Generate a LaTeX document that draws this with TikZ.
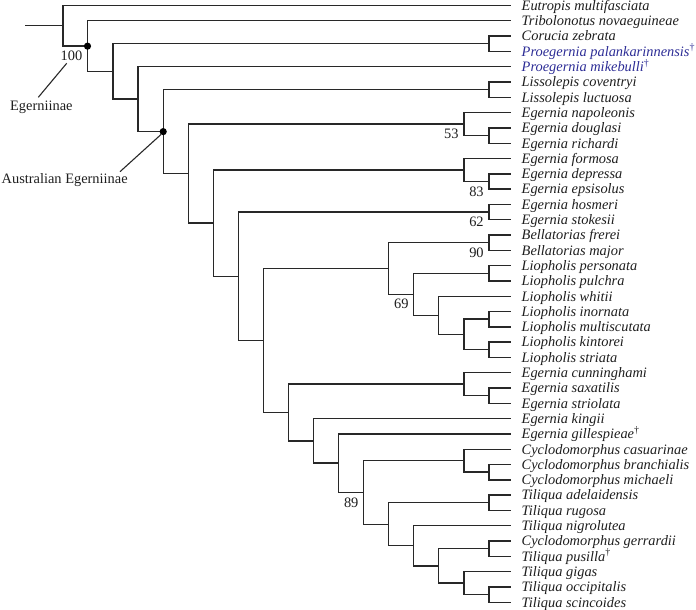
\documentclass[tikz,border=0pt]{standalone}
\usepackage{fontspec}
\setmainfont{Liberation Serif}
\definecolor{linec}{RGB}{40,40,40}
\definecolor{txtc}{RGB}{30,30,30}
\definecolor{fosc}{RGB}{45,45,150}
\begin{document}
\begin{tikzpicture}[x=1pt,y=-1pt,
  br/.style={draw=linec, line width=1.4pt},
  tip/.style={anchor=base west, inner sep=0pt, xshift=10.5pt, yshift=-4.8pt, font=\fontsize{14.4}{15}\selectfont\itshape, text=txtc},
  fossil/.style={tip, text=fosc},
  bs/.style={anchor=north east, inner sep=0pt, xshift=-5pt, yshift=-4.8pt, font=\fontsize{14.4}{15}\selectfont, text=txtc},
  grp/.style={anchor=base west, inner sep=0pt, font=\fontsize{14.4}{15}\selectfont, text=txtc},
  dot/.style={fill=black}]
\useasboundingbox (0,0) rectangle (696,610);
% tips
\coordinate (t0) at (511,5.5);
\coordinate (t1) at (511,20.8);
\coordinate (t2) at (511,36.1);
\coordinate (t3) at (511,51.4);
\coordinate (t4) at (511,66.7);
\coordinate (t5) at (511,82.0);
\coordinate (t6) at (511,97.3);
\coordinate (t7) at (511,112.6);
\coordinate (t8) at (511,127.9);
\coordinate (t9) at (511,143.2);
\coordinate (t10) at (511,158.5);
\coordinate (t11) at (511,173.8);
\coordinate (t12) at (511,189.1);
\coordinate (t13) at (511,204.4);
\coordinate (t14) at (511,219.7);
\coordinate (t15) at (511,235.0);
\coordinate (t16) at (511,250.3);
\coordinate (t17) at (511,265.6);
\coordinate (t18) at (511,280.9);
\coordinate (t19) at (511,296.2);
\coordinate (t20) at (511,311.5);
\coordinate (t21) at (511,326.8);
\coordinate (t22) at (511,342.1);
\coordinate (t23) at (511,357.4);
\coordinate (t24) at (511,372.7);
\coordinate (t25) at (511,388.0);
\coordinate (t26) at (511,403.3);
\coordinate (t27) at (511,418.6);
\coordinate (t28) at (511,433.9);
\coordinate (t29) at (511,449.2);
\coordinate (t30) at (511,464.5);
\coordinate (t31) at (511,479.8);
\coordinate (t32) at (511,495.1);
\coordinate (t33) at (511,510.4);
\coordinate (t34) at (511,525.7);
\coordinate (t35) at (511,541.0);
\coordinate (t36) at (511,556.3);
\coordinate (t37) at (511,571.6);
\coordinate (t38) at (511,586.9);
\coordinate (t39) at (511,602.2);
% tip labels
\node[tip] (l0) at (t0) {Eutropis multifasciata};
\node[tip] (l1) at (t1) {Tribolonotus novaeguineae};
\node[tip] (l2) at (t2) {Corucia zebrata};
\node[fossil] (l3) at (t3) {Proegernia palankarinnensis\textsuperscript{\upshape †}};
\node[fossil] (l4) at (t4) {Proegernia mikebulli\textsuperscript{\upshape †}};
\node[tip] (l5) at (t5) {Lissolepis coventryi};
\node[tip] (l6) at (t6) {Lissolepis luctuosa};
\node[tip] (l7) at (t7) {Egernia napoleonis};
\node[tip] (l8) at (t8) {Egernia douglasi};
\node[tip] (l9) at (t9) {Egernia richardi};
\node[tip] (l10) at (t10) {Egernia formosa};
\node[tip] (l11) at (t11) {Egernia depressa};
\node[tip] (l12) at (t12) {Egernia epsisolus};
\node[tip] (l13) at (t13) {Egernia hosmeri};
\node[tip] (l14) at (t14) {Egernia stokesii};
\node[tip] (l15) at (t15) {Bellatorias frerei};
\node[tip] (l16) at (t16) {Bellatorias major};
\node[tip] (l17) at (t17) {Liopholis personata};
\node[tip] (l18) at (t18) {Liopholis pulchra};
\node[tip] (l19) at (t19) {Liopholis whitii};
\node[tip] (l20) at (t20) {Liopholis inornata};
\node[tip] (l21) at (t21) {Liopholis multiscutata};
\node[tip] (l22) at (t22) {Liopholis kintorei};
\node[tip] (l23) at (t23) {Liopholis striata};
\node[tip] (l24) at (t24) {Egernia cunninghami};
\node[tip] (l25) at (t25) {Egernia saxatilis};
\node[tip] (l26) at (t26) {Egernia striolata};
\node[tip] (l27) at (t27) {Egernia kingii};
\node[tip] (l28) at (t28) {Egernia gillespieae\textsuperscript{\upshape †}};
\node[tip] (l29) at (t29) {Cyclodomorphus casuarinae};
\node[tip] (l30) at (t30) {Cyclodomorphus branchialis};
\node[tip] (l31) at (t31) {Cyclodomorphus michaeli};
\node[tip] (l32) at (t32) {Tiliqua adelaidensis};
\node[tip] (l33) at (t33) {Tiliqua rugosa};
\node[tip] (l34) at (t34) {Tiliqua nigrolutea};
\node[tip] (l35) at (t35) {Cyclodomorphus gerrardii};
\node[tip] (l36) at (t36) {Tiliqua pusilla\textsuperscript{\upshape †}};
\node[tip] (l37) at (t37) {Tiliqua gigas};
\node[tip] (l38) at (t38) {Tiliqua occipitalis};
\node[tip] (l39) at (t39) {Tiliqua scincoides};
% internal nodes
\coordinate (rs) at (25,25.8);
\coordinate (R) at (63,25.8);
\coordinate (EG) at (87.5,46.13);
\coordinate (N2) at (113.1,71.46);
\coordinate (ncor) at (488.85,43.75);
\coordinate (N3) at (138.15,99.16);
\coordinate (AE) at (163.2,131.63);
\coordinate (nlis) at (488.85,89.65);
\coordinate (A) at (188.25,173.6);
\coordinate (nnap) at (463.8,124.08);
\coordinate (ndr) at (488.85,135.55);
\coordinate (B) at (213.3,223.13);
\coordinate (nfor) at (463.8,169.98);
\coordinate (nde) at (488.85,181.45);
\coordinate (C) at (238.35,276.28);
\coordinate (nhos) at (488.85,212.05);
\coordinate (D) at (263.4,340.5);
\coordinate (L1) at (388.65,268.47);
\coordinate (nbel) at (488.85,242.65);
\coordinate (L2) at (413.7,294.29);
\coordinate (npp) at (488.85,273.25);
\coordinate (L3) at (438.75,315.33);
\coordinate (L4) at (463.8,334.45);
\coordinate (nim) at (488.85,319.15);
\coordinate (nks) at (488.85,349.75);
\coordinate (E) at (288.45,412.53);
\coordinate (ncun) at (463.8,384.18);
\coordinate (nss) at (488.85,395.65);
\coordinate (F) at (313.5,440.89);
\coordinate (G) at (338.55,463.19);
\coordinate (H) at (363.6,492.47);
\coordinate (ncyc) at (463.8,460.68);
\coordinate (nbm) at (488.85,472.15);
\coordinate (I) at (388.65,524.27);
\coordinate (nar) at (488.85,502.75);
\coordinate (J) at (413.7,545.78);
\coordinate (K) at (438.75,565.86);
\coordinate (ngp) at (488.85,548.65);
\coordinate (ngig) at (463.8,583.08);
\coordinate (nos) at (488.85,594.55);
% branches
\draw[br] (rs) -- (R);
\foreach \p/\c in {R/t0,R/EG,EG/t1,EG/N2,N2/ncor,N2/N3,ncor/t2,ncor/t3,N3/t4,N3/AE,
  AE/nlis,AE/A,nlis/t5,nlis/t6,A/nnap,A/B,nnap/t7,nnap/ndr,ndr/t8,ndr/t9,
  B/nfor,B/C,nfor/t10,nfor/nde,nde/t11,nde/t12,C/nhos,C/D,nhos/t13,nhos/t14,
  D/L1,D/E,L1/nbel,L1/L2,nbel/t15,nbel/t16,L2/npp,L2/L3,npp/t17,npp/t18,
  L3/t19,L3/L4,L4/nim,L4/nks,nim/t20,nim/t21,nks/t22,nks/t23,
  E/ncun,E/F,ncun/t24,ncun/nss,nss/t25,nss/t26,F/t27,F/G,G/t28,G/H,
  H/ncyc,H/I,ncyc/t29,ncyc/nbm,nbm/t30,nbm/t31,I/nar,I/J,nar/t32,nar/t33,
  J/t34,J/K,K/ngp,K/ngig,ngp/t35,ngp/t36,ngig/t37,ngig/nos,nos/t38,nos/t39}
  {\draw[br] (\p) |- (\c);}
% dots
\fill[dot] (EG) circle (3.6pt);
\fill[dot] (AE) circle (3.6pt);
% support values
\node[bs] (s100) at (EG) {100};
\node[bs] (s53) at (nnap) {53};
\node[bs] (s83) at (nde) {83};
\node[bs] (s62) at (nhos) {62};
\node[bs] (s90) at (nbel) {90};
\node[bs] (s69) at (L2) {69};
\node[bs] (s89) at (H) {89};
% group labels
\node[grp] (egl) at (10,110.3) {Egerniinae};
\node[grp] (ael) at (1.5,183.3) {Australian Egerniinae};
\coordinate (egp1) at (66.7,63.3);
\coordinate (egp2) at (38.3,97.3);
\coordinate (aep1) at (161,134.5);
\coordinate (aep2) at (120,171.7);
\draw[br, line width=1.1pt] (egp1) -- (egp2);
\draw[br, line width=1.1pt] (aep1) -- (aep2);
\end{tikzpicture}
\end{document}
